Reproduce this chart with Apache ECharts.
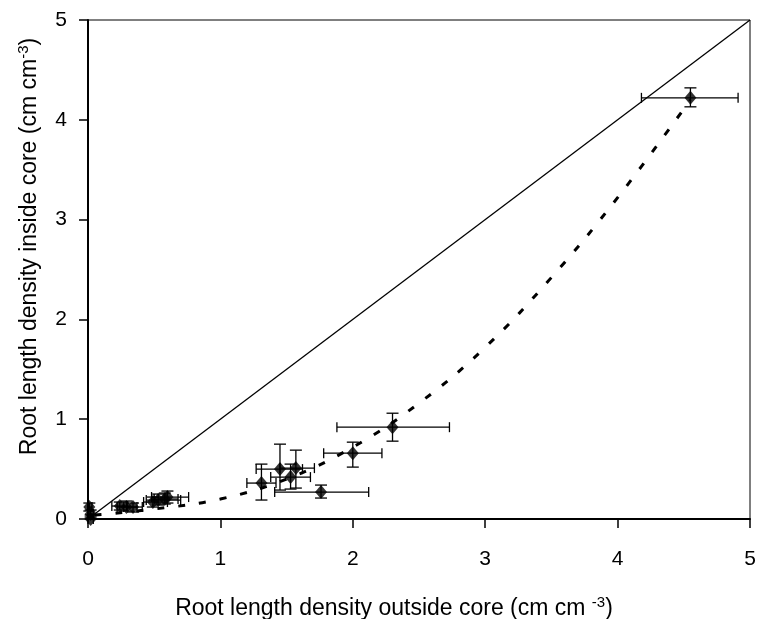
<!DOCTYPE html>
<html>
<head>
<meta charset="utf-8">
<script src="https://cdn.jsdelivr.net/npm/echarts@6/dist/echarts.min.js"></script>
<style>
  html, body { margin: 0; padding: 0; background: #fff; }
  #myCharts { width: 758px; height: 619px; }
</style>
</head>
<body>
<div id="myCharts"></div>
<script>
// root length density outside core (x) and inside core (y), with error ranges
const outsideCore = [0.01, 0.02, 0.02, 0.24, 0.29, 0.34, 0.49, 0.53, 0.58, 0.60, 1.31, 1.45, 1.53, 1.57, 1.76, 2.00, 2.30, 4.55];
const insideCore  = [0.12, 0.05, 0.00, 0.13, 0.12, 0.12, 0.17, 0.19, 0.20, 0.22, 0.36, 0.50, 0.42, 0.51, 0.27, 0.66, 0.92, 4.22];
const outsideLo   = [0.00, 0.00, 0.00, 0.18, 0.22, 0.27, 0.42, 0.44, 0.50, 0.48, 1.20, 1.27, 1.38, 1.45, 1.41, 1.78, 1.88, 4.18];
const outsideHi   = [0.03, 0.04, 0.04, 0.30, 0.37, 0.41, 0.60, 0.70, 0.68, 0.76, 1.42, 1.62, 1.68, 1.71, 2.12, 2.22, 2.73, 4.91];
const insideLo    = [0.08, 0.02, 0.00, 0.09, 0.08, 0.07, 0.12, 0.14, 0.15, 0.16, 0.19, 0.29, 0.30, 0.31, 0.21, 0.52, 0.78, 4.13];
const insideHi    = [0.16, 0.09, 0.04, 0.17, 0.18, 0.16, 0.22, 0.25, 0.26, 0.28, 0.55, 0.75, 0.55, 0.69, 0.34, 0.77, 1.06, 4.32];

// dashed trend curve
const trendX = [0.05, 0.5, 1.0, 1.5, 2.0, 2.5, 3.0, 3.5, 4.0, 4.55];
const trendY = [0.04, 0.10, 0.20, 0.40, 0.72, 1.16, 1.72, 2.42, 3.22, 4.20];

// 1:1 line
const oneToOne = [[0, 0], [5, 5]];

const font = "Liberation Sans, Arial, sans-serif";

const points = outsideCore.map((x, i) => [x, insideCore[i]]);
const errData = outsideCore.map((x, i) => [x, insideCore[i], outsideLo[i], outsideHi[i], insideLo[i], insideHi[i]]);
const trend = trendX.map((x, i) => [x, trendY[i]]);

function renderErr(params, api) {
  const p = api.coord([api.value(0), api.value(1)]);
  const xl = api.coord([api.value(2), api.value(1)]);
  const xh = api.coord([api.value(3), api.value(1)]);
  const yl = api.coord([api.value(0), api.value(4)]);
  const yh = api.coord([api.value(0), api.value(5)]);
  const st = { stroke: "#000", lineWidth: 1.3 };
  const line = (x1, y1, x2, y2) => ({ type: "line", shape: { x1, y1, x2, y2 }, style: st });
  return {
    type: "group",
    children: [
      line(xl[0], p[1], xh[0], p[1]),
      line(xl[0], p[1] - 5, xl[0], p[1] + 5),
      line(xh[0], p[1] - 5, xh[0], p[1] + 5),
      line(p[0], yl[1], p[0], yh[1]),
      line(p[0] - 6, yl[1], p[0] + 6, yl[1]),
      line(p[0] - 6, yh[1], p[0] + 6, yh[1])
    ]
  };
}

const titleRich = {
  a: { fontFamily: font, fontSize: 23, color: "#000" },
  s: { fontFamily: font, fontSize: 15, color: "#000", verticalAlign: "top", padding: [0, 0, 12, 0] }
};

const myCharts = echarts.init(document.getElementById("myCharts"));
const options = {
  backgroundColor: "#fff",
  animation: false,
  grid: {
    left: 88,
    right: 8,
    top: 20,
    bottom: 100,
    outerBoundsMode: "none",
    containLabel: false,
    show: true,
    borderColor: "#000",
    borderWidth: 1
  },
  xAxis: {
    type: "value",
    min: 0,
    max: 5,
    interval: 1,
    name: "{a|Root length density outside core (cm cm }{s|-3}{a|)}",
    nameLocation: "middle",
    nameGap: 76,
    nameTextStyle: {
      padding: [0, 50, 0, 0],
      rich: titleRich
    },
    axisLine: { lineStyle: { color: "#000", width: 2 } },
    axisTick: { length: 9, lineStyle: { color: "#000", width: 1.5 } },
    axisLabel: {
      margin: 30,
      fontFamily: font,
      fontSize: 21,
      color: "#000"
    },
    splitLine: { show: false }
  },
  yAxis: {
    type: "value",
    min: 0,
    max: 5,
    interval: 1,
    name: "{a|Root length density inside core (cm cm}{s|-3}{a|)}",
    nameLocation: "middle",
    nameGap: 45,
    nameTextStyle: {
      padding: [0, 0, 0, 46],
      rich: titleRich
    },
    axisLine: { lineStyle: { color: "#000", width: 2 } },
    axisTick: { length: 9, lineStyle: { color: "#000", width: 1.5 } },
    axisLabel: {
      margin: 21,
      fontFamily: font,
      fontSize: 21,
      color: "#000"
    },
    splitLine: { show: false }
  },
  series: [
    {
      type: "line",
      data: oneToOne,
      symbol: "none",
      lineStyle: { color: "#000", width: 1.3 }
    },
    {
      type: "line",
      data: trend,
      smooth: 0.4,
      symbol: "none",
      lineStyle: { color: "#000", width: 3, type: [7, 14] }
    },
    {
      type: "custom",
      data: errData,
      renderItem: renderErr,
      encode: { x: 0, y: 1 },
      z: 3
    },
    {
      type: "scatter",
      data: points,
      symbol: "diamond",
      symbolSize: [12, 14],
      itemStyle: { color: "#000" },
      z: 4
    }
  ]
};
myCharts.setOption(options);
</script>
</body>
</html>
